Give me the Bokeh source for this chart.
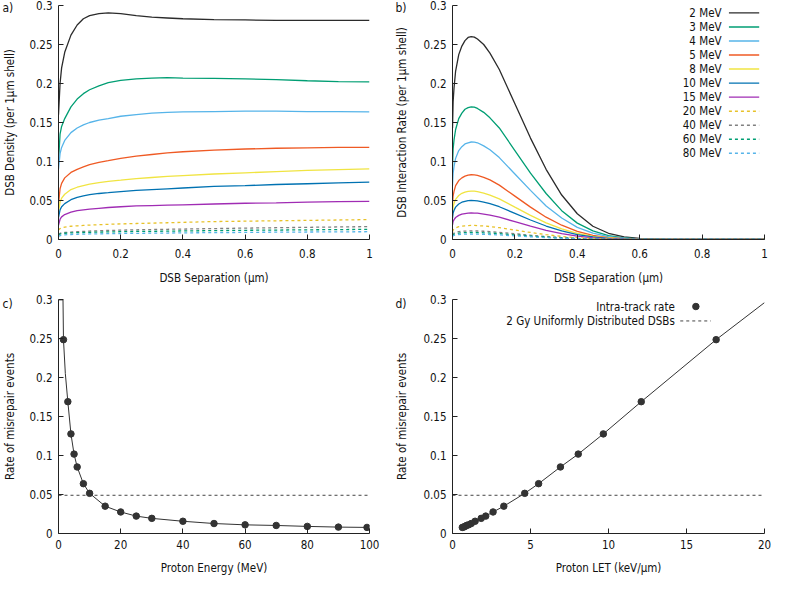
from bokeh.plotting import figure
from bokeh.layouts import gridplot
from bokeh.models import FixedTicker, CustomJSTickFormatter, Range1d, Title
from bokeh.core.properties import value
from bokeh.embed import file_html
from bokeh.resources import INLINE

FONT = "DejaVu Sans Condensed"
TICK_FS = "11.5px"
LAB_FS = "11.5px"

# ---------------- data ----------------
energy_labels = ["2 MeV", "3 MeV", "4 MeV", "5 MeV", "8 MeV", "10 MeV", "15 MeV",
                 "20 MeV", "40 MeV", "60 MeV", "80 MeV"]
energy_colors = ["#2b2b2b", "#009e73", "#56b4e9", "#ef5a24", "#f0e442", "#0072b2",
                 "#a02cb4", "#e8c22a", "#808080", "#009e73", "#56b4e9"]
energy_dash = ["solid"] * 7 + ["3 3"] * 4

# panel a: DSB density vs separation
sep_a = [0, 0.005, 0.01, 0.02, 0.04, 0.06, 0.08, 0.1, 0.13, 0.16, 0.2, 0.25, 0.3,
         0.35, 0.4, 0.5, 0.6, 0.7, 0.8, 0.9, 1.0]
dens_2 = [0.16, 0.2, 0.22, 0.24, 0.262, 0.275, 0.283, 0.287, 0.2895, 0.2905, 0.2895,
          0.287, 0.285, 0.284, 0.283, 0.282, 0.2815, 0.281, 0.281, 0.281, 0.281]
dens_3 = [0.10, 0.135, 0.145, 0.155, 0.17, 0.18, 0.187, 0.192, 0.197, 0.201, 0.204,
          0.206, 0.207, 0.2075, 0.207, 0.2065, 0.206, 0.205, 0.2035, 0.2025, 0.202]
dens_4 = [0.09, 0.11, 0.118, 0.127, 0.137, 0.143, 0.147, 0.150, 0.153, 0.155, 0.158,
          0.160, 0.162, 0.163, 0.1635, 0.164, 0.1645, 0.1645, 0.164, 0.164, 0.1635]
dens_5 = [0.045, 0.065, 0.072, 0.079, 0.086, 0.09, 0.093, 0.096, 0.099, 0.101, 0.104,
          0.107, 0.109, 0.111, 0.1125, 0.1145, 0.116, 0.117, 0.1175, 0.118, 0.118]
dens_8 = [0.035, 0.048, 0.053, 0.058, 0.064, 0.067, 0.069, 0.071, 0.073, 0.0745, 0.076,
          0.078, 0.0795, 0.081, 0.082, 0.084, 0.0855, 0.087, 0.0885, 0.0895, 0.0905]
dens_10 = [0.028, 0.038, 0.042, 0.046, 0.051, 0.054, 0.056, 0.0575, 0.059, 0.060, 0.0615,
           0.063, 0.064, 0.065, 0.066, 0.068, 0.069, 0.0705, 0.0715, 0.0725, 0.0735]
dens_15 = [0.018, 0.026, 0.029, 0.032, 0.035, 0.037, 0.038, 0.039, 0.040, 0.041, 0.042,
           0.043, 0.0435, 0.044, 0.0445, 0.0455, 0.0465, 0.047, 0.048, 0.0485, 0.049]
dens_20 = [0.012, 0.014, 0.015, 0.016, 0.017, 0.0175, 0.018, 0.0185, 0.019, 0.0195, 0.020,
           0.0205, 0.021, 0.0215, 0.022, 0.023, 0.0235, 0.024, 0.0245, 0.025, 0.0255]
dens_40 = [0.007, 0.008, 0.0085, 0.009, 0.0095, 0.010, 0.0104, 0.0108, 0.0112, 0.0116, 0.012,
           0.0124, 0.0128, 0.0131, 0.0134, 0.0140, 0.0146, 0.0151, 0.0156, 0.0161, 0.0165]
dens_60 = [0.006, 0.007, 0.0075, 0.008, 0.0085, 0.0088, 0.009, 0.0092, 0.0095, 0.0097, 0.010,
           0.0103, 0.0105, 0.0107, 0.011, 0.0114, 0.0118, 0.0121, 0.0124, 0.0127, 0.013]
dens_80 = [0.004, 0.005, 0.0055, 0.006, 0.0064, 0.0067, 0.0069, 0.0071, 0.0073, 0.0075, 0.0077,
           0.0079, 0.0081, 0.0083, 0.0085, 0.0088, 0.0091, 0.0094, 0.0096, 0.0098, 0.010]
density_curves = [dens_2, dens_3, dens_4, dens_5, dens_8, dens_10, dens_15,
                  dens_20, dens_40, dens_60, dens_80]

# panel b: DSB interaction rate vs separation
sep_b = [0, 0.002, 0.005, 0.01, 0.02, 0.03, 0.04, 0.05, 0.06, 0.07, 0.08, 0.1, 0.12,
         0.15, 0.2, 0.25, 0.3, 0.35, 0.4, 0.45, 0.5, 0.55, 0.6, 0.7, 1.0]
rate_2 = [0.143, 0.177, 0.195, 0.216, 0.237, 0.248, 0.255, 0.259, 0.26, 0.2595, 0.257,
          0.250, 0.239, 0.218, 0.174, 0.130, 0.090, 0.057, 0.033, 0.017, 0.008, 0.0034,
          0.0013, 0.0001, 0]
rate_3 = [0.094, 0.116, 0.128, 0.141, 0.155, 0.162, 0.167, 0.169, 0.17, 0.1697, 0.168,
          0.163, 0.156, 0.143, 0.114, 0.085, 0.059, 0.037, 0.021, 0.011, 0.005, 0.0022,
          0.0009, 0.0001, 0]
rate_4 = [0.069, 0.085, 0.094, 0.104, 0.114, 0.119, 0.1225, 0.124, 0.125, 0.1248, 0.124,
          0.120, 0.115, 0.105, 0.084, 0.063, 0.043, 0.0275, 0.0156, 0.0081, 0.0038, 0.0016,
          0.0006, 0.0001, 0]
rate_5 = [0.046, 0.056, 0.062, 0.069, 0.0755, 0.079, 0.0813, 0.0826, 0.083, 0.0828, 0.0822,
          0.0797, 0.0764, 0.0697, 0.0556, 0.0415, 0.0286, 0.0183, 0.0104, 0.0054, 0.0025,
          0.0011, 0.0004, 0, 0]
rate_8 = [0.034, 0.042, 0.0465, 0.0515, 0.0564, 0.0592, 0.0608, 0.0617, 0.062, 0.0619,
          0.0614, 0.0595, 0.057, 0.0521, 0.0415, 0.031, 0.0214, 0.0136, 0.0078, 0.004,
          0.0019, 0.0008, 0.0003, 0, 0]
rate_10 = [0.0275, 0.034, 0.0375, 0.0415, 0.0455, 0.0478, 0.049, 0.0498, 0.05, 0.0499,
           0.0495, 0.048, 0.046, 0.042, 0.0335, 0.025, 0.0173, 0.011, 0.0063, 0.0033,
           0.0015, 0.0007, 0.0003, 0, 0]
rate_15 = [0.0187, 0.0231, 0.0255, 0.0282, 0.0309, 0.0325, 0.0333, 0.0338, 0.034, 0.0339,
           0.0337, 0.0326, 0.0313, 0.0286, 0.0228, 0.017, 0.0117, 0.0075, 0.0043, 0.0022,
           0.001, 0.0004, 0.0002, 0, 0]
rate_20 = [0.0099, 0.0122, 0.0135, 0.0149, 0.0164, 0.0172, 0.0176, 0.0179, 0.018, 0.018,
           0.0178, 0.0173, 0.0166, 0.0151, 0.0121, 0.009, 0.0062, 0.004, 0.0023, 0.0012,
           0.0005, 0.0002, 0.0001, 0, 0]
rate_40 = [0.0061, 0.0075, 0.0083, 0.0091, 0.01, 0.0105, 0.0108, 0.0109, 0.011, 0.011,
           0.0109, 0.0106, 0.0101, 0.0092, 0.0074, 0.0055, 0.0038, 0.0024, 0.0014, 0.0007,
           0.0003, 0.0001, 0.0001, 0, 0]
rate_60 = [0.005, 0.0061, 0.0068, 0.0075, 0.0082, 0.0086, 0.0088, 0.009, 0.009, 0.009,
           0.0089, 0.0086, 0.0083, 0.0076, 0.006, 0.0045, 0.0031, 0.002, 0.0011, 0.0006,
           0.0003, 0.0001, 0, 0, 0]
rate_80 = [0.0039, 0.0048, 0.0053, 0.0058, 0.0064, 0.0067, 0.0069, 0.007, 0.007, 0.007,
           0.0069, 0.0067, 0.0064, 0.0059, 0.0047, 0.0035, 0.0024, 0.0015, 0.0009, 0.0005,
           0.0002, 0.0001, 0, 0, 0]
rate_curves = [rate_2, rate_3, rate_4, rate_5, rate_8, rate_10, rate_15,
               rate_20, rate_40, rate_60, rate_80]

# panels c / d: misrepair rate
proton_energy = [1.6, 3, 4, 5, 6, 8, 10, 15, 20, 25, 30, 40, 50, 60, 70, 80, 90, 99.2]
proton_let = [16.9, 12.1, 9.67, 8.06, 6.92, 5.52, 4.63, 3.29, 2.6, 2.13, 1.84, 1.45,
              1.2, 1.03, 0.9, 0.8, 0.71, 0.63]
misrepair_rate = [0.2485, 0.169, 0.1277, 0.1018, 0.0853, 0.0639, 0.0515, 0.035, 0.0276,
                  0.0223, 0.0194, 0.0157, 0.0128, 0.0111, 0.0103, 0.0091, 0.0082, 0.0078]
fit_energy = [0.0, 1.45, 1.6, 2.2, 3, 4, 5, 6, 8, 10, 15, 20, 25, 30, 40, 50, 60, 70,
              80, 90, 99.2]
fit_rate_e = [0.2995, 0.2995, 0.2485, 0.205, 0.169, 0.1277, 0.1018, 0.0853, 0.0639,
              0.0515, 0.035, 0.0276, 0.0223, 0.0194, 0.0157, 0.0128, 0.0111, 0.0103,
              0.0091, 0.0082, 0.0078]
fit_let = [0.63, 0.71, 0.8, 0.9, 1.03, 1.2, 1.45, 1.84, 2.13, 2.6, 3.29, 4.63, 5.52,
           6.92, 8.06, 9.67, 12.1, 16.9, 20.0]
fit_rate_l = [0.0078, 0.0082, 0.0091, 0.0103, 0.0111, 0.0128, 0.0157, 0.0194, 0.0223,
              0.0276, 0.035, 0.0515, 0.0639, 0.0853, 0.1018, 0.1277, 0.169, 0.2485, 0.296]
uniform_2gy = 0.049
legend_d_labels = ["Intra-track rate", "2 Gy Uniformly Distributed DSBs"]
panel_letters = ["a)", "b)", "c)", "d)"]

y_ticks = [0, 0.05, 0.1, 0.15, 0.2, 0.25, 0.3]
sep_ticks = [0, 0.2, 0.4, 0.6, 0.8, 1.0]
energy_ticks = [0, 20, 40, 60, 80, 100]
let_ticks = [0, 5, 10, 15, 20]

fmt = CustomJSTickFormatter(code="return String(Number(tick.toFixed(3)));")


def make_fig(xr, xticks, xlabel, ylabel, width, height, bl, br, bt, bb,
             x_std, x_lab_std, y_lab_std):
    p = figure(width=width, height=height, output_backend="svg", toolbar_location=None,
               x_range=Range1d(*xr), y_range=Range1d(0, 0.3),
               min_border_left=bl, min_border_right=br, min_border_top=bt,
               min_border_bottom=bb)
    p.outline_line_color = None
    p.grid.grid_line_color = None
    p.background_fill_color = "white"
    p.border_fill_color = "white"
    for ax, ticks in ((p.xaxis[0], xticks), (p.yaxis[0], y_ticks)):
        ax.ticker = FixedTicker(ticks=ticks)
        ax.formatter = fmt
        ax.major_tick_in = 5
        ax.major_tick_out = 0
        ax.minor_tick_line_color = None
        ax.axis_line_color = "#222222"
        ax.major_tick_line_color = "#222222"
        ax.major_label_text_font = FONT
        ax.major_label_text_font_size = TICK_FS
        ax.major_label_text_color = "#111111"
        ax.axis_label_text_font = FONT
        ax.axis_label_text_font_size = LAB_FS
        ax.axis_label_text_font_style = "normal"
        ax.axis_label_text_color = "#111111"
    p.xaxis.axis_label = xlabel
    p.yaxis.axis_label = ylabel
    p.xaxis.major_label_standoff = x_std
    p.yaxis.major_label_standoff = 6
    p.xaxis.axis_label_standoff = x_lab_std
    p.yaxis.axis_label_standoff = y_lab_std
    return p


def letter(p, txt, offset, standoff):
    p.add_layout(Title(text=txt, align="left", offset=offset, standoff=standoff,
                       vertical_align="bottom", text_font=FONT, text_font_size="12px",
                       text_font_style="normal", text_color="#111111"), "above")


# panel a
pa = make_fig((0, 1), sep_ticks, "DSB Separation (µm)", "DSB Density (per 1µm shell)",
              392, 287, 56, 23, 5, 48, 9, 10, 9)
for ys, c, d in zip(density_curves, energy_colors, energy_dash):
    pa.line(sep_a, ys, line_color=c, line_width=1.3, line_dash=d)
letter(pa, panel_letters[0], -56, -19)

# panel b
pb = make_fig((0, 1), sep_ticks, "DSB Separation (µm)",
              "DSB Interaction Rate (per 1µm shell)", 379, 287, 59, 7, 5, 48, 9, 10, 11)
for ys, c, d in zip(rate_curves, energy_colors, energy_dash):
    pb.line(sep_b, ys, line_color=c, line_width=1.3, line_dash=d)
leg_rows = [0.2905 - 0.018 * i for i in range(len(energy_labels))]
pb.text(x=[0.8625] * len(energy_labels), y=leg_rows, text=energy_labels,
        text_align="right", text_baseline="middle", text_font=value(FONT),
        text_font_size="11.5px", text_color="#111111")
for yy, c, d in zip(leg_rows, energy_colors, energy_dash):
    pb.segment(x0=[0.886], y0=[yy], x1=[0.983], y1=[yy], line_color=c,
               line_width=1.4, line_dash=d)
letter(pb, panel_letters[1], -57, -19)

# panel c
pc = make_fig((0, 100), energy_ticks, "Proton Energy (MeV)", "Rate of misrepair events",
              392, 290, 56, 23, 12, 44, 6, 9, 9)
pc.segment(x0=[0], y0=[uniform_2gy], x1=[100], y1=[uniform_2gy], line_color="#444444",
           line_width=1, line_dash="3 3")
pc.line(fit_energy, fit_rate_e, line_color="#333333", line_width=1)
pc.scatter(proton_energy, misrepair_rate, size=6.5, fill_color="#333333",
           line_color="#333333")
letter(pc, panel_letters[2], -56, -22)

# panel d
pd = make_fig((0, 20), let_ticks, "Proton LET (keV/µm)", "Rate of misrepair events",
              379, 290, 59, 7, 12, 44, 6, 9, 11)
pd.segment(x0=[0], y0=[uniform_2gy], x1=[20], y1=[uniform_2gy], line_color="#444444",
           line_width=1, line_dash="3 3")
pd.line(fit_let, fit_rate_l, line_color="#333333", line_width=1)
pd.scatter(proton_let, misrepair_rate, size=6.5, fill_color="#333333",
           line_color="#333333")
pd.text(x=[14.25, 14.25], y=[0.291, 0.2725], text=legend_d_labels, text_align="right",
        text_baseline="middle", text_font=value(FONT), text_font_size="11.5px",
        text_color="#111111")
pd.scatter(x=[15.6], y=[0.291], size=6.5, fill_color="#333333", line_color="#333333")
pd.segment(x0=[14.6], y0=[0.2725], x1=[16.56], y1=[0.2725], line_color="#444444",
           line_width=1, line_dash="3 3")
letter(pd, panel_letters[3], -57, -22)

grid = gridplot([[pa, pb], [pc, pd]], toolbar_location=None)

with open("out.html", "w") as f:
    f.write(file_html(grid, INLINE))
